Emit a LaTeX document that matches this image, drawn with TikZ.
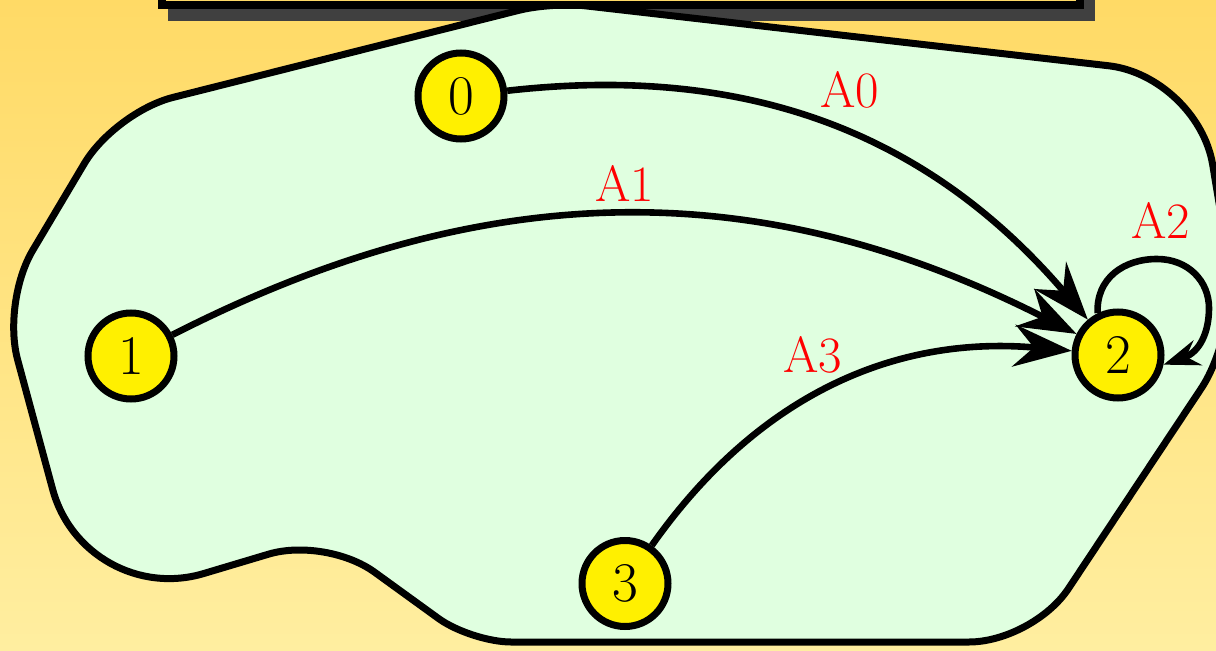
\documentclass[tikz,border=0pt]{standalone}
\usepackage{fontspec}
\usetikzlibrary{arrows.meta,calc}
\definecolor{bgtop}{RGB}{255,218,102}
\definecolor{bgbot}{RGB}{255,238,160}
\definecolor{blobfill}{RGB}{224,255,224}
\definecolor{nodefill}{RGB}{255,240,0}
\definecolor{shadowgray}{RGB}{64,64,64}
\begin{document}
\begin{tikzpicture}[x=0.5pt,y=0.5pt,
  state/.style={circle,draw=black,line width=3.5pt,fill=nodefill,minimum size=43pt,inner sep=0pt,font=\fontsize{28}{30}\selectfont},
  lbl/.style={text=red,font=\fontsize{25.5}{27}\selectfont,inner sep=0pt},
  arr/.style={line width=3.3pt,-{Stealth[length=29pt,width=21pt,inset=10pt]}},
  looparr/.style={line width=3.3pt,-{Stealth[length=18pt,width=13pt,inset=6pt]}},
  blob/.style={draw=black,line width=3.5pt,fill=blobfill,line join=round}]
\useasboundingbox (0,0) rectangle (1216,650);
\fill[top color=bgtop,bottom color=bgbot] (0,0) rectangle (1216,650);
% shadow of the title box
\fill[shadowgray] (168,629.5) rectangle (1095,720);
% blob outline
\coordinate (V1) at (552,648);
\coordinate (V2) at (1198,574);
\coordinate (V3) at (1240,320);
\coordinate (V4) at (1033,8);
\coordinate (V5) at (471,8);
\coordinate (V6) at (326,113);
\coordinate (V7) at (85,41);
\coordinate (V8) at (2,348);
\coordinate (V9) at (115,538);
\coordinate (S) at (752,8);
\draw[blob] (S)
 -- ($(V5)!20pt!(V4)$) .. controls ($(V5)!9pt!(V4)$) and ($(V5)!9pt!(V6)$) .. ($(V5)!20pt!(V6)$)
 -- ($(V6)!30pt!(V5)$) .. controls ($(V6)!13pt!(V5)$) and ($(V6)!13pt!(V7)$) .. ($(V6)!30pt!(V7)$)
 -- ($(V7)!62pt!(V6)$) .. controls ($(V7)!28pt!(V6)$) and ($(V7)!28pt!(V8)$) .. ($(V7)!62pt!(V8)$)
 -- ($(V8)!30pt!(V7)$) .. controls ($(V8)!13pt!(V7)$) and ($(V8)!13pt!(V9)$) .. ($(V8)!30pt!(V9)$)
 -- ($(V9)!30pt!(V8)$) .. controls ($(V9)!13pt!(V8)$) and ($(V9)!13pt!(V1)$) .. ($(V9)!30pt!(V1)$)
 -- ($(V1)!17pt!(V9)$) .. controls ($(V1)!7.5pt!(V9)$) and ($(V1)!7.5pt!(V2)$) .. ($(V1)!17pt!(V2)$)
 -- ($(V2)!45pt!(V1)$) .. controls ($(V2)!20pt!(V1)$) and ($(V2)!20pt!(V3)$) .. ($(V2)!45pt!(V3)$)
 -- ($(V3)!35pt!(V2)$) .. controls ($(V3)!16pt!(V2)$) and ($(V3)!16pt!(V4)$) .. ($(V3)!35pt!(V4)$)
 -- ($(V4)!32pt!(V3)$) .. controls ($(V4)!14pt!(V3)$) and ($(V4)!14pt!(V5)$) .. ($(V4)!32pt!(V5)$)
 -- cycle;
% title box
\draw[line width=4pt,fill=bgtop] (161.5,645) rectangle (1079.5,720);
% states
\node[state] (n0) at (461,554) {0};
\node[state] (n1) at (131,294) {1};
\node[state] (n2) at (1118,295) {2};
\node[state] (n3) at (625,66.5) {3};
% transitions
\draw[arr] (n0) to[bend left=28] (n2);
\draw[arr] (n1) to[bend left=27] (n2);
\draw[arr] (n3) to[bend left=30] (n2);
\draw[looparr] (n2.116) .. controls (1096,372) and (1124,391) .. (1157,391)
  .. controls (1188,391) and (1209,369) .. (1209,342)
  .. controls (1209,318) and (1200,298) .. (n2.-12);
% labels
\node[lbl] (l0) at (850,560) {A0};
\node[lbl] (l1) at (625,467) {A1};
\node[lbl] (l2) at (1161,430) {A2};
\node[lbl] (l3) at (813,295) {A3};
\end{tikzpicture}
\end{document}
